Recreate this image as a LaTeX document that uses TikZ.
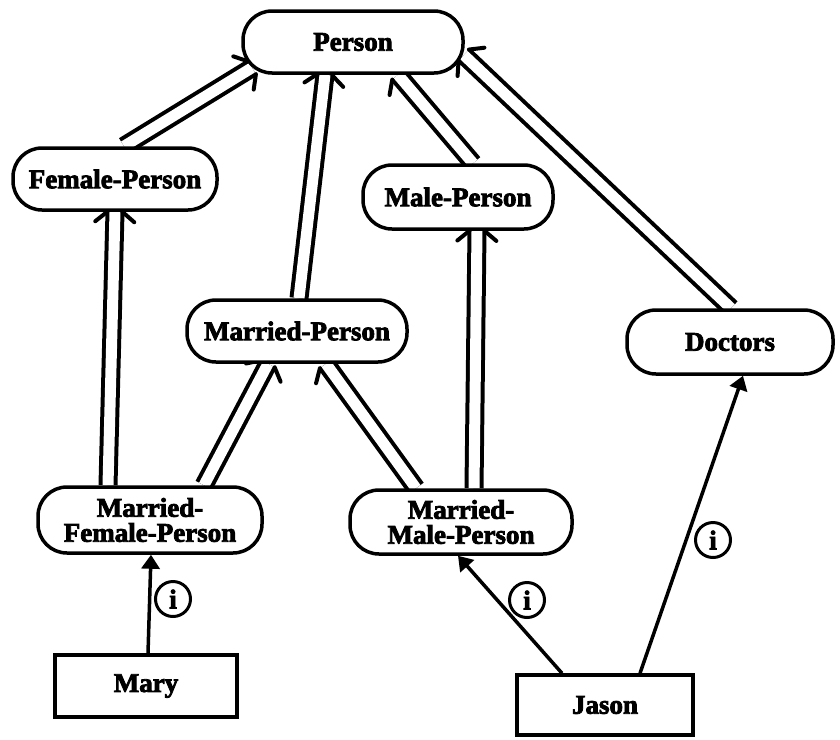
\documentclass[tikz,border=0pt]{standalone}
\usepackage{fontspec}
\setmainfont{Liberation Serif}[BoldFeatures={FakeBold=3}]
\usetikzlibrary{calc,arrows.meta,backgrounds}
\newcommand\lblfont{\fontsize{27}{25}\selectfont\bfseries}
\newcommand\isalink[2]{%
  \draw[dbl] (#1) -- (#2);
  \draw[barb] ($(#2)!7.5pt!90:(#1)$) -- ($(#2)!21.9pt!62.9:(#1)$);
  \draw[barb] ($(#2)!7.5pt!-90:(#1)$) -- ($(#2)!21.9pt!-62.9:(#1)$);
}
\begin{document}
\begin{tikzpicture}[x=1pt,y=-1pt,
  cls/.style={draw, line width=3.5pt, rounded corners=29pt, fill=white, inner sep=0pt, font=\lblfont, align=center},
  inst/.style={draw, line width=3.5pt, fill=white, inner sep=0pt, font=\lblfont},
  dbl/.style={line width=4pt, double=white, double distance=11pt},
  barb/.style={line width=4pt, line cap=round},
  instof/.style={line width=3.5pt, -{Triangle[length=14pt,width=18pt]}},
  ilabel/.style={draw, circle, line width=3pt, minimum size=35pt, inner sep=0pt, font=\lblfont}]
\useasboundingbox (0,0) rectangle (840,739);
% classes
\node[cls, minimum width=220pt, minimum height=62pt] (per) at (353,42) {Person};
\node[cls, minimum width=204pt, minimum height=62pt] (fp) at (115,179) {Female-Person};
\node[cls, minimum width=190pt, minimum height=64pt] (mp) at (458,197) {Male-Person};
\node[cls, minimum width=220pt, minimum height=62pt] (marp) at (297,331) {Married-Person};
\node[cls, minimum width=206pt, minimum height=64pt] (doc) at (730,342) {Doctors};
\node[cls, minimum width=224pt, minimum height=66pt] (mfp) at (150,520) {Married-\\Female-Person};
\node[cls, minimum width=222pt, minimum height=64pt] (mmp) at (461,522) {Married-\\Male-Person};
% instances
\node[inst, minimum width=182pt, minimum height=62pt] (mary) at (146,686) {Mary};
\node[inst, minimum width=176pt, minimum height=60pt] (jason) at (605,705) {Jason};
% endpoints
\coordinate (s1) at ($(fp.north)+(9,0)$);     \coordinate (e1) at ($(per.south)+(-101,-7)$);
\coordinate (s2) at ($(marp.north)+(2,0)$);   \coordinate (e2) at ($(per.south)+(-28,0)$);
\coordinate (s3) at ($(mp.north)+(15,0)$);    \coordinate (e3) at ($(per.south)+(45,0)$);
\coordinate (s4) at ($(doc.north)+(1,0)$);    \coordinate (e4) at ($(per.east)+(-1,13)$);
\coordinate (s5) at ($(mfp.north)+(-42,0)$);  \coordinate (e5) at (fp.south);
\coordinate (s6) at ($(mfp.north)+(54,0)$);   \coordinate (e6) at ($(marp.south)+(-29,0)$);
\coordinate (s7) at ($(mmp.north)+(-45,0)$);  \coordinate (e7) at ($(marp.south)+(29,0)$);
\coordinate (s8) at ($(mmp.north)+(13,0)$);   \coordinate (e8) at ($(mp.south)+(19,0)$);
\coordinate (s9) at ($(mary.north)+(2,0)$);   \coordinate (e9) at ($(mfp.south)+(1,0)$);
\coordinate (s10) at ($(jason.north)+(-43,0)$); \coordinate (e10) at ($(mmp.south)+(-3,0)$);
\coordinate (s11) at ($(jason.north)+(35,0)$);  \coordinate (e11) at ($(doc.south)+(13,0)$);
\begin{scope}[on background layer]
  \isalink{s1}{e1}
  \isalink{s2}{e2}
  \isalink{s3}{e3}
  \isalink{s4}{e4}
  \isalink{s5}{e5}
  \isalink{s6}{e6}
  \isalink{s7}{e7}
  \isalink{s8}{e8}
\end{scope}
\draw[instof] (s9) -- (e9);
\draw[instof] (s10) -- (e10);
\draw[instof] (s11) -- (e11);
\node[ilabel] (i1) at (173,599) {i};
\node[ilabel] (i2) at (527,600) {i};
\node[ilabel] (i3) at (713,540) {i};
\end{tikzpicture}
\end{document}
